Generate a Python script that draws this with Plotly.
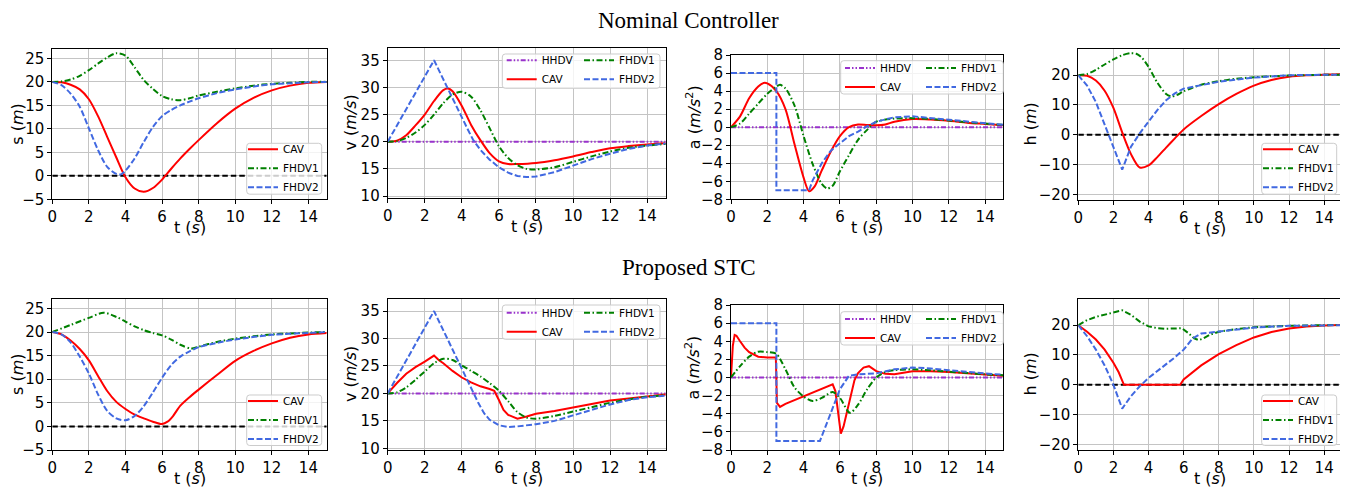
import plotly.graph_objects as go

# The page body has an 8px margin, so the figure is drawn 8px in from the window corner.
OFF = 8
W, H = 1340, 479

# ---------------- data ----------------
# Nominal controller -- spacing s (m)
t_s_nom_cav = [0,0.5,1,1.5,2,2.5,3,3.5,4,4.5,5,5.5,6,6.5,7,7.5,8,9,10,11,12,13,14,15]
s_nom_cav = [20,19.9,19.4,18.4,16.3,12.7,8.3,3.9,-0.3,-2.7,-3.4,-2.6,-0.8,1.5,3.7,5.7,7.6,11.2,14.3,16.6,18.2,19.2,19.8,20.0]
t_s_nom_f1 = [0,0.5,1,1.5,2,2.5,3,3.5,4,4.5,5,5.5,6,6.5,7,7.5,8,9,10,11,12,13,14,15]
s_nom_f1 = [20,20.1,20.5,21.3,22.5,23.9,25.2,26.1,25.6,23.1,20.4,18.5,17.0,16.3,16.1,16.5,17.1,17.9,18.6,19.2,19.6,19.8,20.0,20.0]
t_s_nom_f2 = [0,0.5,1,1.5,2,2.5,3,3.5,3.75,4,4.5,5,5.5,6,6.5,7,7.5,8,9,10,11,12,13,14,15]
s_nom_f2 = [20,19.3,17.5,14.7,10.1,5.5,1.9,0.4,0.3,1.1,3.7,7.2,10.4,12.7,14.0,15.0,15.8,16.5,17.6,18.4,19.0,19.5,19.7,19.9,20.0]

# Nominal controller -- velocity v (m/s)
t_v_nom_hh = [0, 15]
v_nom_hh = [20, 20]
t_v_nom_cav = [0,0.5,1,1.5,2,2.5,3,3.25,3.5,4,4.5,5,5.5,6,6.5,7,8,9,10,11,12,13,14,15]
v_nom_cav = [20,20.2,21.2,23.0,25.0,27.5,29.5,29.8,29.3,26.6,23.1,20.3,17.9,16.4,15.9,15.9,16.1,16.6,17.3,18.1,18.8,19.2,19.5,19.7]
t_v_nom_f1 = [0,0.5,1,1.5,2,2.5,3,3.5,4,4.5,5,5.5,6,6.5,7,7.5,8,9,10,11,12,13,14,15]
v_nom_f1 = [20,20.1,20.7,21.7,23.1,25.0,27.1,28.7,29.2,28.3,25.8,22.5,19.2,17.0,15.7,15.0,14.9,15.3,16.3,17.3,18.2,18.9,19.3,19.6]
t_v_nom_f2 = [0,2.5,4.3,4.6,5,5.5,6,6.5,7,7.5,8,9,10,11,12,13,14,15]
v_nom_f2 = [20,35,22.4,20.4,18.5,16.7,15.3,14.3,13.7,13.5,13.6,14.4,15.6,16.8,17.8,18.7,19.3,19.7]

# Nominal controller -- acceleration a (m/s^2)
t_a_nom_hh = [0, 15]
a_nom_hh = [0, 0]
t_a_nom_cav = [0,0.5,1,1.5,1.8,2,2.5,3,3.5,4,4.3,4.6,5,5.5,6,6.5,7,7.5,8,8.5,9,10,11,12,13,14,15]
a_nom_cav = [0,1.2,3.2,4.5,4.9,4.85,4.0,2.0,-1.9,-5.6,-7.1,-6.6,-4.8,-2.7,-1.0,0.0,0.3,0.25,0.2,0.3,0.6,0.9,0.85,0.7,0.5,0.35,0.2]
t_a_nom_f1 = [0,0.5,1,1.5,2,2.5,2.7,3,3.5,4,4.5,5,5.3,5.6,6,6.5,7,7.5,8,9,10,11,12,13,14,15]
a_nom_f1 = [0,0.4,1.5,2.6,3.7,4.5,4.7,4.3,2.4,-1.0,-4.1,-6.3,-6.8,-6.5,-4.9,-3.1,-1.4,-0.3,0.6,0.95,1.0,0.9,0.75,0.55,0.4,0.25]
t_a_nom_f2 = [0,2.5,2.5,4.3,4.5,5,5.5,6,6.5,7,7.5,8,9,10,11,12,13,14,15]
a_nom_f2 = [6,6,-7,-7,-5.9,-4.0,-2.6,-1.8,-1.0,-0.5,0.1,0.6,1.1,1.2,1.0,0.8,0.6,0.4,0.25]

# Nominal controller -- headway h (m)
t_h_nom_cav = [0,0.5,1,1.5,2,2.5,3,3.5,4,4.5,5,5.5,6,7,8,9,10,11,12,13,14,15]
h_nom_cav = [20,19.8,18.2,14.8,9.0,0.8,-6.5,-11.0,-10.3,-7.5,-4.3,-1.2,1.8,6.3,10.3,13.7,16.5,18.4,19.5,20.0,20.2,20.3]
t_h_nom_f1 = [0,0.5,1,1.5,2,2.5,3,3.3,3.6,4,4.5,5,5.3,5.6,6,6.5,7,8,9,10,12,15]
h_nom_f1 = [20,20.4,21.8,23.6,25.3,26.7,27.4,27.2,26.0,22.8,17.5,13.7,12.9,13.3,14.6,15.8,16.8,18.0,18.8,19.3,19.9,20.2]
t_h_nom_f2 = [0,0.5,1,1.5,2,2.5,3,3.5,4,4.5,5,5.5,6,7,8,10,12,15]
h_nom_f2 = [20,16.5,11.0,3.5,-4.0,-11.7,-4.0,0.5,4.4,8.3,11.6,13.9,15.5,16.6,17.8,19.2,20.0,20.2]

# Proposed STC -- spacing s (m)
t_s_stc_cav = [0,0.5,1,1.5,2,2.5,3,3.5,4,4.5,5,5.5,6,6.3,6.6,7,7.5,8,9,10,11,12,13,14,15]
s_stc_cav = [20,19.5,18.2,16.4,14.0,10.7,7.5,5.2,3.7,2.5,1.7,1.0,0.5,1.0,2.2,4.4,6.2,7.8,10.9,13.9,16.0,17.6,18.8,19.5,19.8]
t_s_stc_f1 = [0,1,2,2.8,3.5,4,4.5,5,5.5,6,6.5,7,7.6,8,9,10,11,12,13,14,15]
s_stc_f1 = [20,21.5,23.0,24.1,23.2,22.2,21.2,20.4,19.8,19.3,18.4,17.3,16.5,16.9,17.9,18.6,19.1,19.5,19.7,19.9,20.0]
t_s_stc_f2 = [0,0.5,1,1.5,2,2.5,3,3.5,4,4.5,5,5.5,6,6.5,7,7.5,8,9,10,12,14,15]
s_stc_f2 = [20,19.5,17.8,14.8,11.2,6.8,3.3,1.7,1.3,2.2,4.3,7.2,10.3,13.0,14.8,15.9,16.8,17.7,18.4,19.4,19.8,20.0]

# Proposed STC -- velocity v (m/s)
t_v_stc_hh = [0, 15]
v_stc_hh = [20, 20]
t_v_stc_cav = [0,0.25,0.5,1,1.5,2,2.5,2.75,3,3.5,4,4.5,5,5.5,5.75,6,6.25,6.5,7,7.5,8,9,10,11,12,13,14,15]
v_stc_cav = [20,21.0,21.9,23.6,24.8,25.8,26.9,26.1,25.5,24.1,22.9,22.0,21.3,20.8,20.5,18.8,17.0,16.1,15.4,15.8,16.3,16.8,17.4,18.0,18.7,19.1,19.5,19.8]
t_v_stc_f1 = [0,0.5,1,1.5,2,2.5,3,3.5,4,4.5,5,5.5,6,6.5,7,7.5,8,9,10,11,12,13,14,15]
v_stc_f1 = [20,20.2,21.1,22.5,24.0,25.5,26.3,26.1,25.1,24.1,23.1,21.9,20.5,18.6,16.6,15.6,15.4,15.9,16.7,17.5,18.3,18.9,19.4,19.7]
t_v_stc_f2 = [0,2.5,4.9,5.2,5.5,6,6.5,7,8,9,10,11,12,13,14,15]
v_stc_f2 = [20,35,18.2,16.4,15.2,14.2,13.9,14.0,14.4,15.0,16.0,17.0,18.0,18.8,19.3,19.6]

# Proposed STC -- acceleration a (m/s^2)
t_a_stc_hh = [0, 15]
a_stc_hh = [0, 0]
t_a_stc_cav = [0,0.1,0.2,0.3,0.5,0.75,1,1.5,2,2.47,2.53,2.7,3,4,5,5.6,5.75,5.9,6.05,6.2,6.4,6.6,6.8,7,7.3,7.6,8,8.5,9,10,11,12,13,14,15]
a_stc_cav = [0,3.5,4.7,4.6,4.0,3.3,2.8,2.3,2.2,2.2,-2.8,-3.25,-2.9,-2.1,-1.3,-0.75,-1.5,-4.0,-6.2,-5.4,-3.6,-1.8,-0.3,0.5,1.1,1.25,0.7,0.4,0.37,0.7,0.7,0.6,0.45,0.3,0.2]
t_a_stc_f1 = [0,0.5,1,1.5,2,2.5,3,3.5,4,4.5,5,5.6,6,6.55,7,7.5,8,8.5,9,10,11,12,13,14,15]
a_stc_f1 = [0,1.25,2.3,2.85,2.8,2.6,0.9,-1.1,-2.1,-2.6,-2.25,-1.6,-2.25,-3.9,-3.0,-1.3,0.0,0.6,0.8,0.9,0.8,0.65,0.5,0.35,0.25]
t_a_stc_f2 = [0,2.5,2.5,4.9,5.5,6,6.5,7,8,9,10,11,12,13,14,15]
a_stc_f2 = [6,6,-7,-7,-3.9,-1.3,0.2,0.35,0.45,0.9,1.1,1.0,0.8,0.6,0.45,0.3]

# Proposed STC -- headway h (m)
t_h_stc_cav = [0,0.5,1,1.5,2,2.3,2.6,5.8,6,6.5,7,8,9,10,11,12,13,14,15]
h_stc_cav = [20,17.8,15.2,11.8,7.4,4.2,0,0,1.8,4.3,6.5,10.3,13.3,15.9,17.7,18.9,19.6,19.9,20.1]
t_h_stc_f1 = [0,0.5,1,1.5,2,2.5,3,3.5,4,4.5,5,5.5,5.9,6.3,6.6,6.85,7.1,7.5,8,9,10,12,15]
h_stc_f1 = [20,21.7,22.8,23.6,24.3,25.0,23.5,21.2,19.6,19.0,18.8,18.9,19.0,17.2,15.6,15.0,15.5,16.8,17.8,18.7,19.3,19.8,20.1]
t_h_stc_f2 = [0,0.5,1,1.5,2,2.5,3,3.5,4,4.5,5,5.5,6,6.5,7,8,10,12,15]
h_stc_f2 = [20,16.3,11.8,6.5,0.0,-8.0,-3.8,-0.5,2.3,4.5,6.8,9.2,11.8,15.5,17.2,17.9,19.2,19.8,20.0]

# zero reference line and tick labels
t_ref = [0, 15]
zero_ref = [0, 0]
x_ticks = [0, 2, 4, 6, 8, 10, 12, 14]
y_ticks_s = [-5, 0, 5, 10, 15, 20, 25]
y_ticks_v = [10, 15, 20, 25, 30, 35]
y_ticks_a = [-8, -6, -4, -2, 0, 2, 4, 6, 8]
y_ticks_h = [-20, -10, 0, 10, 20]

row_titles = ["Nominal Controller", "Proposed STC"]
x_label = "t (<i>s</i>)"
y_labels = ["s (<i>m</i>)", "v (<i>m/s</i>)", "a (<i>m/s</i><sup>2</sup>)", "h (<i>m</i>)"]

# ---------------- styles ----------------
C_CAV, C_F1, C_F2, C_HH = "#ff0000", "#008000", "#4169e1", "#9932cc"
D_F1 = "6px,2.5px,1.5px,2.5px"
D_F2 = "6px,2.5px"
D_HH = "5px,2px,1.5px,2px,1.5px,2px"
D_ZERO = "5.5px,3px"
LW = 2

# panel pixel boxes in window coordinates: (x0, x1, y0_top, y1_bottom)
boxes = [
    (52.3, 326.7, 49, 199.3), (387.7, 665.7, 48.3, 197.7), (731, 1003.3, 55, 199.3), (1078.3, 1341.7, 49, 200),
    (52.3, 326.7, 299, 450), (387.7, 665.7, 299, 450), (731, 1003.3, 305, 450), (1078.3, 1341.7, 299, 450),
]
yranges = [[-5, 27], [9.7, 37.2], [-8, 8], [-21.9, 28.8]] * 2
yticks = [y_ticks_s, y_ticks_v, y_ticks_a, y_ticks_h] * 2

def px(x):
    return (x - OFF) / W

def py(y):
    return 1 - (y - OFF) / H

fig = go.Figure()

def add(i, t, y, name, color, dash, legend, shape="spline", show=True):
    ax = "" if i == 0 else str(i + 1)
    fig.add_trace(go.Scatter(
        x=t, y=y, name=name, mode="lines",
        line=dict(color=color, width=LW, dash=dash, shape=shape, smoothing=0.8 if shape == "spline" else None),
        xaxis="x" + ax, yaxis="y" + ax, legend=legend, showlegend=show,
    ))

# Panel 1: s nominal
add(0, t_ref, zero_ref, "zero", "black", D_ZERO, "legend", "linear", False)
add(0, t_s_nom_cav, s_nom_cav, "CAV", C_CAV, "solid", "legend")
add(0, t_s_nom_f1, s_nom_f1, "FHDV1", C_F1, D_F1, "legend")
add(0, t_s_nom_f2, s_nom_f2, "FHDV2", C_F2, D_F2, "legend")
# Panel 2: v nominal
add(1, t_v_nom_hh, v_nom_hh, "HHDV", C_HH, D_HH, "legend2", "linear")
add(1, t_v_nom_cav, v_nom_cav, "CAV", C_CAV, "solid", "legend2")
add(1, t_v_nom_f1, v_nom_f1, "FHDV1", C_F1, D_F1, "legend3")
add(1, t_v_nom_f2, v_nom_f2, "FHDV2", C_F2, D_F2, "legend3", "linear")
# Panel 3: a nominal
add(2, t_a_nom_hh, a_nom_hh, "HHDV", C_HH, D_HH, "legend4", "linear")
add(2, t_a_nom_cav, a_nom_cav, "CAV", C_CAV, "solid", "legend4")
add(2, t_a_nom_f1, a_nom_f1, "FHDV1", C_F1, D_F1, "legend5")
add(2, t_a_nom_f2, a_nom_f2, "FHDV2", C_F2, D_F2, "legend5", "linear")
# Panel 4: h nominal
add(3, t_ref, zero_ref, "zero", "black", D_ZERO, "legend6", "linear", False)
add(3, t_h_nom_cav, h_nom_cav, "CAV", C_CAV, "solid", "legend6")
add(3, t_h_nom_f1, h_nom_f1, "FHDV1", C_F1, D_F1, "legend6")
add(3, t_h_nom_f2, h_nom_f2, "FHDV2", C_F2, D_F2, "legend6", "linear")
# Panel 5: s STC
add(4, t_ref, zero_ref, "zero", "black", D_ZERO, "legend7", "linear", False)
add(4, t_s_stc_cav, s_stc_cav, "CAV", C_CAV, "solid", "legend7")
add(4, t_s_stc_f1, s_stc_f1, "FHDV1", C_F1, D_F1, "legend7")
add(4, t_s_stc_f2, s_stc_f2, "FHDV2", C_F2, D_F2, "legend7")
# Panel 6: v STC
add(5, t_v_stc_hh, v_stc_hh, "HHDV", C_HH, D_HH, "legend8", "linear")
add(5, t_v_stc_cav, v_stc_cav, "CAV", C_CAV, "solid", "legend8", "linear")
add(5, t_v_stc_f1, v_stc_f1, "FHDV1", C_F1, D_F1, "legend9")
add(5, t_v_stc_f2, v_stc_f2, "FHDV2", C_F2, D_F2, "legend9", "linear")
# Panel 7: a STC
add(6, t_a_stc_hh, a_stc_hh, "HHDV", C_HH, D_HH, "legend10", "linear")
add(6, t_a_stc_cav, a_stc_cav, "CAV", C_CAV, "solid", "legend10", "linear")
add(6, t_a_stc_f1, a_stc_f1, "FHDV1", C_F1, D_F1, "legend11")
add(6, t_a_stc_f2, a_stc_f2, "FHDV2", C_F2, D_F2, "legend11", "linear")
# Panel 8: h STC
add(7, t_ref, zero_ref, "zero", "black", D_ZERO, "legend12", "linear", False)
add(7, t_h_stc_cav, h_stc_cav, "CAV", C_CAV, "solid", "legend12", "linear")
add(7, t_h_stc_f1, h_stc_f1, "FHDV1", C_F1, D_F1, "legend12", "linear")
add(7, t_h_stc_f2, h_stc_f2, "FHDV2", C_F2, D_F2, "legend12", "linear")

layout = dict(
    width=W, height=H,
    margin=dict(l=0, r=0, t=0, b=0, autoexpand=False),
    paper_bgcolor="white", plot_bgcolor="white",
    font=dict(family="DejaVu Sans", size=15, color="black"),
)

tickfont = dict(family="DejaVu Sans", size=15, color="black")
for i, (x0, x1, y0, y1) in enumerate(boxes):
    ax = "" if i == 0 else str(i + 1)
    layout["xaxis" + ax] = dict(
        domain=[px(x0), min(px(x1), 1.0)], anchor="y" + ax, range=[0, 15],
        tickvals=x_ticks, ticks="outside", ticklen=4, tickwidth=1, tickcolor="black",
        showline=True, linecolor="black", linewidth=1, mirror=True, automargin=False,
        showgrid=True, gridcolor="#c4c4c4", gridwidth=1, zeroline=False, tickfont=tickfont,
    )
    layout["yaxis" + ax] = dict(
        domain=[py(y1), py(y0)], anchor="x" + ax, range=yranges[i],
        tickvals=yticks[i], ticks="outside", ticklen=4, tickwidth=1, tickcolor="black",
        showline=True, linecolor="black", linewidth=1, mirror=True, automargin=False,
        showgrid=True, gridcolor="#c4c4c4", gridwidth=1, zeroline=False, tickfont=tickfont,
    )

# legends: (name, left px, top px) in window coordinates
legend_pos = [
    ("legend", 243, 134.8), ("legend2", 501.7, 45.7), ("legend3", 579, 45.7),
    ("legend4", 840, 53.4), ("legend5", 921, 53.4), ("legend6", 1258, 134.8),
    ("legend7", 243, 386.5), ("legend8", 501.7, 298.2), ("legend9", 579, 298.2),
    ("legend10", 840, 304.4), ("legend11", 921, 304.4), ("legend12", 1258, 386.5),
]
for name, lx, ly in legend_pos:
    layout[name] = dict(
        x=px(lx), y=py(ly), xanchor="left", yanchor="top",
        bgcolor="rgba(0,0,0,0)", borderwidth=0, tracegroupgap=0, itemwidth=30,
        font=dict(family="DejaVu Sans", size=10.5, color="black"),
    )

# legend frames (x0, x1, y_top, y_bottom) in window px
frames = [
    (246.7, 321.7, 143.3, 194.2), (502.3, 660, 54, 88.3), (840.7, 1003.3, 60.7, 94),
    (1261.7, 1336.7, 143.3, 194.2), (246.7, 321.7, 395, 445.5), (502.3, 660, 305, 339.3),
    (840.7, 1003.3, 311.7, 345), (1261.7, 1336.7, 395, 445.5),
]

def rounded(x0, x1, y0, y1, r=3):
    X = lambda v: f"{px(v):.6f}"
    Y = lambda v: f"{py(v):.6f}"
    return (f"M {X(x0 + r)},{Y(y0)} L {X(x1 - r)},{Y(y0)} Q {X(x1)},{Y(y0)} {X(x1)},{Y(y0 + r)} "
            f"L {X(x1)},{Y(y1 - r)} Q {X(x1)},{Y(y1)} {X(x1 - r)},{Y(y1)} "
            f"L {X(x0 + r)},{Y(y1)} Q {X(x0)},{Y(y1)} {X(x0)},{Y(y1 - r)} "
            f"L {X(x0)},{Y(y0 + r)} Q {X(x0)},{Y(y0)} {X(x0 + r)},{Y(y0)} Z")

layout["shapes"] = [
    dict(type="path", path=rounded(*f), xref="paper", yref="paper", layer="above",
         fillcolor="rgba(255,255,255,0.8)", line=dict(color="#cccccc", width=1))
    for f in frames
]

ann = []
ann.append(dict(text=row_titles[0], x=px(688), y=py(20.5), xref="paper", yref="paper", showarrow=False,
                xanchor="center", yanchor="middle", font=dict(family="Liberation Serif", size=23, color="black")))
ann.append(dict(text=row_titles[1], x=px(689), y=py(267), xref="paper", yref="paper", showarrow=False,
                xanchor="center", yanchor="middle", font=dict(family="Liberation Serif", size=23, color="black")))
ylab_x = [17.5, 350.5, 693, 1030]
ylab_dy = [0, 0, -10, 0]
for i, (x0, x1, y0, y1) in enumerate(boxes):
    ann.append(dict(text=x_label, x=px((x0 + x1) / 2), y=py(y1 + 28.5), xref="paper", yref="paper",
                    showarrow=False, xanchor="center", yanchor="middle",
                    font=dict(family="DejaVu Sans", size=16, color="black")))
    ann.append(dict(text=y_labels[i % 4], x=px(ylab_x[i % 4]), y=py((y0 + y1) / 2 + ylab_dy[i % 4]),
                    xref="paper", yref="paper",
                    showarrow=False, xanchor="center", yanchor="middle", textangle=-90,
                    font=dict(family="DejaVu Sans", size=16, color="black")))
layout["annotations"] = ann

fig.update_layout(**layout)
fig.write_html("out.html")
